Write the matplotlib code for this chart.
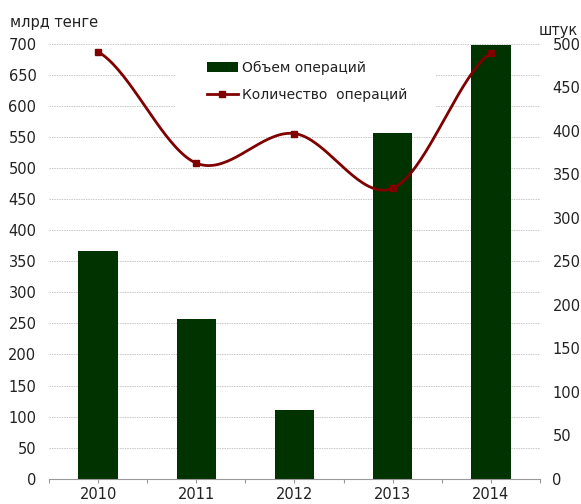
import numpy as np
import matplotlib
matplotlib.use('Agg')
import matplotlib.pyplot as plt
from matplotlib.patches import Rectangle
from matplotlib.lines import Line2D

years = ['2010', '2011', '2012', '2013', '2014']
volume = [367, 257, 111, 557, 698]       # млрд тенге
count = [491, 363, 397, 334, 490]        # штук

bar_color = '#003300'
line_color = '#800000'
text_color = '#222222'

plt.rcParams['font.family'] = ['DejaVu Sans']
plt.rcParams['font.size'] = 10


def smooth(xs, ys, n=40):
    # Catmull-Rom spline through the points, like Excel's smoothed line
    px = np.concatenate([[2 * xs[0] - xs[1]], xs, [2 * xs[-1] - xs[-2]]])
    py = np.concatenate([[ys[0]], ys, [ys[-1]]])
    ox, oy = [], []
    for i in range(1, len(px) - 2):
        p0, p1, p2, p3 = (np.array([px[j], py[j]]) for j in range(i - 1, i + 3))
        c1 = p1 + (p2 - p0) / 6
        c2 = p2 - (p3 - p1) / 6
        t = np.linspace(0, 1, n)[:, None]
        pts = ((1 - t) ** 3 * p1 + 3 * (1 - t) ** 2 * t * c1
               + 3 * (1 - t) * t ** 2 * c2 + t ** 3 * p2)
        ox.extend(pts[:, 0])
        oy.extend(pts[:, 1])
    return np.array(ox), np.array(oy)


fig = plt.figure(figsize=(5.81, 5.04), dpi=100)
ax = fig.add_axes([0.0843, 0.0502, 0.8451, 0.8625])
x = np.arange(len(years))

ax.bar(x, volume, width=0.4, color=bar_color, zorder=2)
ax.set_xlim(-0.5, len(years) - 0.5)
ax.set_ylim(0, 700)
ax.set_yticks(np.arange(0, 701, 50))
ax.set_axisbelow(True)
ax.grid(axis='y', color='#c8c8c8', linestyle=(0, (1.5, 1)), linewidth=0.7)

ticks = np.arange(-0.5, len(years), 0.5)
ax.set_xticks(ticks)
ax.set_xticklabels([years[int(t)] if t == int(t) else '' for t in ticks])
ax.tick_params(axis='x', direction='out', length=3, color='#999999',
               pad=3, labelsize=10.5, labelcolor=text_color)
ax.tick_params(axis='y', length=0, pad=9, labelsize=10.5, labelcolor=text_color)
for s in ['top', 'left', 'right']:
    ax.spines[s].set_visible(False)
ax.spines['bottom'].set_color('#999999')

# white area behind the legend hides the gridlines there
ax.add_patch(Rectangle((0.257, 0.81), 0.531, 0.16, transform=ax.transAxes,
                       facecolor='white', edgecolor='none', zorder=1))

ax2 = ax.twinx()
ax2.set_ylim(0, 500)
ax2.set_yticks(np.arange(0, 501, 50))
ax2.tick_params(axis='y', length=0, pad=9, labelsize=10.5, labelcolor=text_color)
for s in ['top', 'left', 'right', 'bottom']:
    ax2.spines[s].set_visible(False)

sx, sy = smooth(x.astype(float), np.array(count, dtype=float))
ax2.plot(sx, sy, color=line_color, linewidth=2, zorder=3)
ax2.plot(x, count, linestyle='none', marker='s', markersize=5,
         color=line_color, zorder=4)

handles = [Rectangle((0, 0), 1, 1, facecolor=bar_color),
           Line2D([], [], color=line_color, linewidth=2, marker='s', markersize=5)]
ax2.legend(handles, ['Объем операций', 'Количество  операций'],
           loc='upper left', bbox_to_anchor=(207 / 581, 1 - 61 / 504),
           bbox_transform=fig.transFigure, frameon=False, fontsize=10,
           handlelength=2.2, handleheight=0.7, handletextpad=0.3,
           labelspacing=0.95, borderaxespad=0, borderpad=0,
           labelcolor=text_color)

fig.text(10 / 581, 1 - 23 / 504, 'млрд тенге', ha='left', va='center',
         fontsize=10.5, color=text_color)
fig.text(578 / 581, 1 - 30 / 504, 'штук', ha='right', va='center',
         fontsize=10.5, color=text_color)

fig.savefig('out.png', dpi=100)
